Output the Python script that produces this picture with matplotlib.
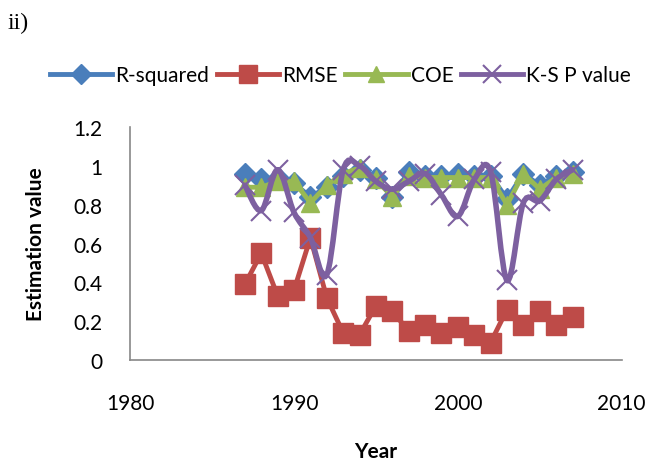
import numpy as np
import matplotlib.pyplot as plt
from matplotlib.path import Path
from matplotlib.patches import PathPatch
from matplotlib.lines import Line2D

years = list(range(1987, 2008))
r_squared = [0.96, 0.93, 0.94, 0.91, 0.84, 0.89, 0.95, 0.98, 0.94, 0.84, 0.97,
             0.95, 0.95, 0.96, 0.95, 0.95, 0.83, 0.96, 0.90, 0.95, 0.97]
rmse = [0.39, 0.55, 0.33, 0.36, 0.63, 0.32, 0.14, 0.13, 0.28, 0.25, 0.15,
        0.18, 0.14, 0.17, 0.13, 0.09, 0.26, 0.18, 0.25, 0.18, 0.22]
coe = [0.89, 0.89, 0.92, 0.92, 0.81, 0.90, 0.96, 0.99, 0.93, 0.84, 0.95,
       0.94, 0.94, 0.94, 0.94, 0.94, 0.80, 0.96, 0.88, 0.94, 0.96]
ks_p = [0.90, 0.77, 0.98, 0.76, 0.63, 0.44, 0.98, 1.00, 0.92, 0.88, 0.92,
        0.96, 0.85, 0.74, 0.93, 0.97, 0.41, 0.81, 0.82, 0.93, 0.98]

blue = '#4A7EBB'
red = '#BE4B48'
green = '#98B954'
purple = '#7D60A0'

plt.rcParams['font.family'] = ['Lato', 'DejaVu Sans']


def smooth_path(x, y, t=1/6):
    # bezier segments like a spreadsheet "smoothed line"
    x = np.asarray(x, float)
    y = np.asarray(y, float)
    n = len(x)
    verts = [(x[0], y[0])]
    codes = [Path.MOVETO]
    for i in range(n - 1):
        x0, y0 = (x[i - 1], y[i - 1]) if i > 0 else (x[i], y[i])
        x3, y3 = (x[i + 2], y[i + 2]) if i + 2 < n else (x[i + 1], y[i + 1])
        c1 = (x[i] + (x[i + 1] - x0) * t, y[i] + (y[i + 1] - y0) * t)
        c2 = (x[i + 1] - (x3 - x[i]) * t, y[i + 1] - (y3 - y[i]) * t)
        verts += [c1, c2, (x[i + 1], y[i + 1])]
        codes += [Path.CURVE4] * 3
    return Path(verts, codes)


fig = plt.figure(figsize=(6.51, 4.64), dpi=100)
ax = fig.add_axes([0.2, 0.222, 0.755, 0.502])

ax.plot(years, r_squared, color=blue, lw=3.5, marker='D', ms=11, zorder=3)
ax.plot(years, rmse, color=red, lw=3.5, marker='s', ms=14, zorder=3)
ax.plot(years, coe, color=green, lw=3.5, marker='^', ms=13, zorder=3)
ax.add_patch(PathPatch(smooth_path(years, ks_p), fill=False, edgecolor=purple,
                       lw=4, zorder=4, capstyle='round'))
ax.plot(years, ks_p, ls='none', color=purple, marker='x', ms=14, mew=1.5, zorder=5)

ax.set_xlim(1980, 2010)
ax.set_ylim(0, 1.2)
ax.set_xticks([1980, 1990, 2000, 2010])
ax.set_yticks([0, 0.2, 0.4, 0.6, 0.8, 1.0, 1.2])
ax.set_yticklabels(['0', '0.2', '0.4', '0.6', '0.8', '1', '1.2'])
ax.tick_params(length=0, labelsize=15, pad=20)
ax.tick_params(axis='x', pad=24)
for s in ['top', 'right']:
    ax.spines[s].set_visible(False)
for s in ['left', 'bottom']:
    ax.spines[s].set_color('#888888')
    ax.spines[s].set_linewidth(1.2)

ax.set_xlabel('Year', fontsize=15, fontweight='bold', labelpad=20)
ax.set_ylabel('Estimation value', fontsize=15, fontweight='bold', labelpad=20)

handles = [
    Line2D([], [], color=blue, lw=3.5, marker='D', ms=10),
    Line2D([], [], color=red, lw=3.5, marker='s', ms=13),
    Line2D([], [], color=green, lw=3.5, marker='^', ms=12),
    Line2D([], [], color=purple, lw=3.5, marker='x', ms=13, mew=1.5),
]
fig.legend(handles, ['R-squared', 'RMSE', 'COE', 'K-S P value'], ncol=4,
           loc='center', bbox_to_anchor=(0.523, 0.836), frameon=False,
           fontsize=15, handlelength=3.0, columnspacing=0.35, handletextpad=0.15)

fig.text(0.012, 0.95, 'ii)', fontsize=17, family='Liberation Serif', va='center')

fig.savefig('out.png', dpi=100)
